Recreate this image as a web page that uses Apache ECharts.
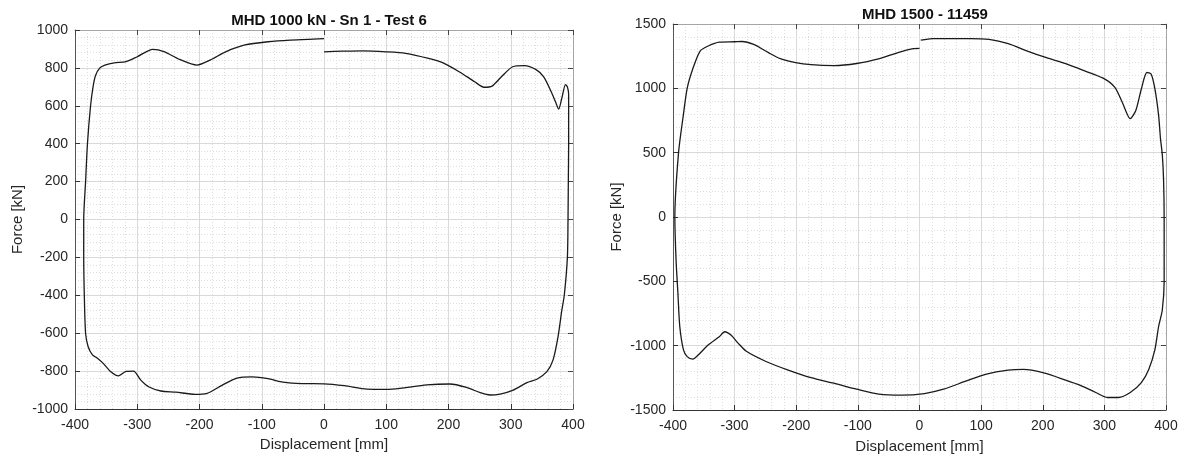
<!DOCTYPE html>
<html><head><meta charset="utf-8">
<script src="https://cdn.jsdelivr.net/npm/echarts@6/dist/echarts.min.js"></script>
<style>html,body{margin:0;padding:0;background:#fff}#c{width:1186px;height:459px}</style>
</head><body><div id="c"></div>
<script>
const titleA = 'MHD 1000 kN - Sn 1 - Test 6';
const titleB = 'MHD 1500 - 11459';
const xName = 'Displacement [mm]';
const yName = 'Force [kN]';
const xRange = [-400, 400, 100];
const yRangeA = [-1000, 1000, 200];
const yRangeB = [-1500, 1500, 500];

// Chart A: loop path (starts at x=0 on upper branch after the gap)
const dispA = [0, 30, 63, 100, 131, 168, 193, 217, 242, 257, 270, 285, 303, 322, 340, 353, 365, 372, 377, 382, 388, 391, 393, 393, 392.5, 392, 391, 386, 382, 376, 368, 358, 342, 326, 304, 283, 267, 251, 229, 202, 165, 122, 100, 69, 33, 0, -35, -66, -90, -115, -140, -164, -189, -207, -238, -262, -281, -294, -306, -318, -330, -343, -355, -364, -372, -379, -383, -385, -386, -386, -383, -380, -375, -371, -367, -360, -352, -337, -318, -300, -275, -257, -232, -204, -183, -158, -127, -90, -54, -17, 0];
const forceA = [885, 888, 890, 885, 877, 850, 824, 780, 727, 698, 704, 753, 806, 812, 792, 753, 674, 620, 583, 640, 712, 700, 660, 400, 200, 0, -200, -400, -480, -618, -741, -803, -843, -861, -900, -921, -926, -914, -886, -868, -873, -891, -896, -895, -877, -867, -866, -858, -840, -831, -837, -875, -919, -923, -911, -905, -884, -849, -800, -802, -825, -802, -758, -732, -714, -670, -600, -405, -200, 0, 200, 400, 600, 700, 760, 800, 815, 827, 833, 859, 898, 886, 845, 815, 841, 885, 921, 938, 947, 952, 954];

// Chart B: loop path
const dispB = [2, 21, 82, 113, 144, 175, 206, 237, 268, 298, 317, 329, 342, 351, 360, 369, 376, 382, 388, 391, 394, 396, 397, 397, 397, 394, 388, 382, 372, 360, 342, 323, 305, 286, 261, 237, 200, 169, 144, 107, 76, 39, 8, -29, -66, -102, -139, -176, -213, -250, -281, -294, -306, -316, -325, -343, -359, -368, -377, -383, -389, -392, -395, -397, -391, -383, -377, -368, -356, -343, -325, -300, -288, -269, -245, -226, -201, -176, -139, -102, -65, -35, -10, 0];
const forceB = [1374, 1387, 1387, 1380, 1347, 1290, 1238, 1192, 1136, 1079, 1008, 892, 764, 828, 995, 1123, 1110, 995, 790, 612, 484, 300, 0, -300, -500, -723, -851, -1031, -1185, -1287, -1364, -1403, -1403, -1364, -1308, -1267, -1210, -1185, -1190, -1223, -1274, -1338, -1372, -1385, -1377, -1338, -1292, -1249, -1190, -1121, -1044, -982, -918, -892, -931, -995, -1072, -1105, -1085, -1033, -851, -595, -338, 0, 500, 800, 1000, 1150, 1290, 1329, 1359, 1362, 1364, 1341, 1277, 1231, 1200, 1184, 1177, 1193, 1231, 1277, 1308, 1310];

const FONT = 'Liberation Sans, Arial, sans-serif';
const pairs = (xs, ys) => xs.map((x, i) => [x, ys[i]]);
const plain = v => String(v);

function mainX(gi, gap) {
  return {
    type: 'value', gridIndex: gi, position: 'bottom',
    min: xRange[0], max: xRange[1], interval: xRange[2],
    name: xName, nameLocation: 'middle', nameGap: gap,
    nameTextStyle: {fontFamily: FONT, fontSize: 15, color: '#262626'},
    axisLine: {show: true, onZero: false, lineStyle: {color: '#333', width: 1}},
    axisTick: {show: true, inside: true, length: 5, lineStyle: {color: '#333'}},
    axisLabel: {fontFamily: FONT, fontSize: 14, color: '#262626', margin: 9, formatter: plain},
    splitLine: {show: true, lineStyle: {color: '#d9d9d9', width: 1}},
    minorTick: {show: false, splitNumber: 5},
    minorSplitLine: {show: true, lineStyle: {color: '#dedede', type: [1, 2], width: 1}}
  };
}
function sideX(gi) {
  return {
    type: 'value', gridIndex: gi, position: 'top',
    min: xRange[0], max: xRange[1], interval: xRange[2],
    axisLine: {show: true, onZero: false, lineStyle: {color: '#a6a6a6', width: 1}},
    axisTick: {show: true, inside: true, length: 5, lineStyle: {color: '#444'}},
    axisLabel: {show: false}, splitLine: {show: false}
  };
}
function mainY(gi, r, gap) {
  return {
    type: 'value', gridIndex: gi, position: 'left',
    min: r[0], max: r[1], interval: r[2],
    name: yName, nameLocation: 'middle', nameGap: gap, nameRotate: 90,
    nameTextStyle: {fontFamily: FONT, fontSize: 15, color: '#262626'},
    axisLine: {show: true, onZero: false, lineStyle: {color: '#555', width: 1}},
    axisTick: {show: true, inside: true, length: 5, lineStyle: {color: '#333'}},
    axisLabel: {fontFamily: FONT, fontSize: 14, color: '#262626', margin: 7, formatter: plain},
    splitLine: {show: true, lineStyle: {color: '#d9d9d9', width: 1}},
    minorTick: {show: false, splitNumber: 5},
    minorSplitLine: {show: true, lineStyle: {color: '#dedede', type: [1, 2], width: 1}}
  };
}
function sideY(gi, r) {
  return {
    type: 'value', gridIndex: gi, position: 'right',
    min: r[0], max: r[1], interval: r[2],
    axisLine: {show: true, onZero: false, lineStyle: {color: '#a6a6a6', width: 1}},
    axisTick: {show: true, inside: true, length: 5, lineStyle: {color: '#444'}},
    axisLabel: {show: false}, splitLine: {show: false}
  };
}

const chart = echarts.init(document.getElementById('c'), null, {renderer: 'canvas'});
chart.setOption({
  backgroundColor: '#ffffff',
  animation: false,
  title: [
    {text: titleA, left: 324, top: 8, textAlign: 'center',
     textStyle: {fontFamily: FONT, fontSize: 15, fontWeight: 'bold', color: '#111'}},
    {text: titleB, left: 920, top: 2, textAlign: 'center',
     textStyle: {fontFamily: FONT, fontSize: 15, fontWeight: 'bold', color: '#111'}}
  ],
  grid: [
    {left: 75, top: 30, width: 498, height: 379},
    {left: 673, top: 24, width: 493, height: 390}
  ],
  xAxis: [mainX(0, 28), sideX(0), mainX(1, 29), sideX(1)],
  yAxis: [mainY(0, yRangeA, 50), sideY(0, yRangeA), mainY(1, yRangeB, 49), sideY(1, yRangeB)],
  series: [
    {type: 'line', xAxisIndex: 0, yAxisIndex: 0, data: pairs(dispA, forceA),
     showSymbol: false, smooth: 0.25, lineStyle: {color: '#1a1a1a', width: 1.3}},
    {type: 'line', xAxisIndex: 2, yAxisIndex: 2, data: pairs(dispB, forceB),
     showSymbol: false, smooth: 0.25, lineStyle: {color: '#1a1a1a', width: 1.3}}
  ]
});
</script>
</body></html>
